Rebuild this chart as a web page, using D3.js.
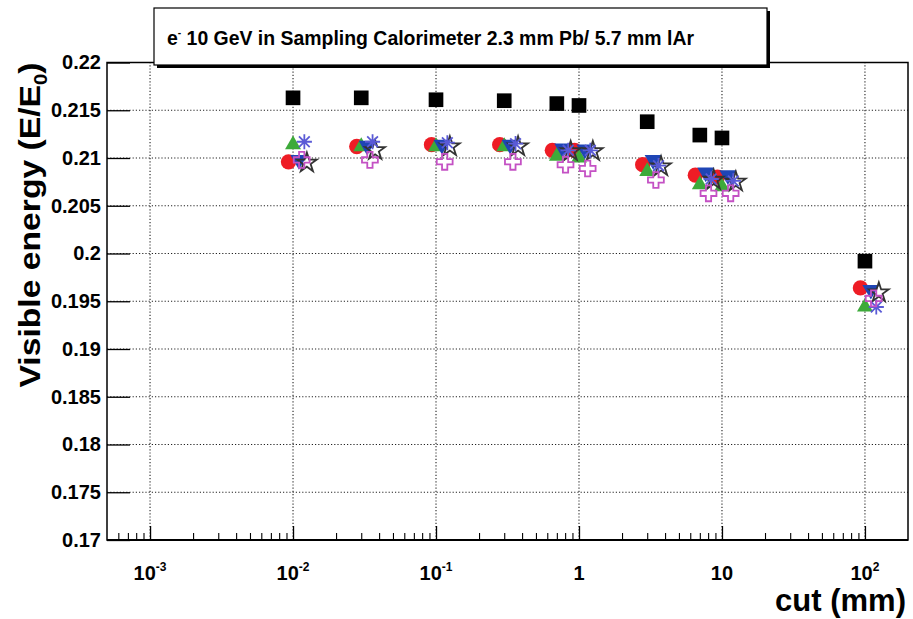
<!DOCTYPE html>
<html>
<head>
<meta charset="utf-8">
<script src="https://cdn.jsdelivr.net/npm/d3@7"></script>
<style>
  body { margin: 0; background: #fff; }
  text { font-family: "Liberation Sans", Arial, sans-serif; font-weight: bold; fill: #000; }
</style>
</head>
<body>
<svg id="chart" width="913" height="619"></svg>
<script>

// cut values (mm) and the visible energy fraction of each series
const cuts          = [0.01, 0.03, 0.1, 0.3, 0.7, 1, 3, 7, 10, 100];
const squareVals    = [0.2163, 0.2163, 0.2161, 0.2160, 0.2157, 0.2155, 0.2138, 0.2124, 0.2121, 0.1992];
const circleVals    = [0.2096, 0.2112, 0.2114, 0.2114, 0.2108, 0.2108, 0.2093, 0.2082, 0.2080, 0.1964];
const triUpVals     = [0.2114, 0.2112, 0.2112, 0.2112, 0.2102, 0.2100, 0.2086, 0.2072, 0.2070, 0.1944];
const triDownVals   = [0.2098, 0.2113, 0.2114, 0.2114, 0.2110, 0.2109, 0.2098, 0.2085, 0.2082, 0.1962];
const starVals      = [0.2095, 0.2108, 0.2112, 0.2112, 0.2107, 0.2107, 0.2091, 0.2077, 0.2075, 0.1959];
const asteriskVals  = [0.2117, 0.2117, 0.2116, 0.2115, 0.2108, 0.2108, 0.2092, 0.2078, 0.2076, 0.1944];
const crossVals     = [0.2098, 0.2098, 0.2096, 0.2096, 0.2093, 0.2089, 0.2077, 0.2063, 0.2063, 0.1953];

// small x offsets the series were plotted with (factor on the cut)
const xShift        = { square: 1, circle: 0.93, triUp: 1.0, triDown: 1.1, star: 1.25, asterisk: 1.2, cross: 1.15 };

const yTicks        = [0.17, 0.175, 0.18, 0.185, 0.19, 0.195, 0.2, 0.205, 0.21, 0.215, 0.22];
const xMajor        = [1e-3, 1e-2, 1e-1, 1, 10, 100];
const xMajorLabels  = [['10', '-3'], ['10', '-2'], ['10', '-1'], ['1', ''], ['10', ''], ['10', '2']];

const titleText     = ' 10 GeV in Sampling Calorimeter 2.3 mm Pb/ 5.7 mm lAr';


const svg = d3.select('#chart');

const x = d3.scaleLog().domain([5e-4, 200]).range([107, 908]);
const y = d3.scaleLinear().domain([0.17, 0.22]).range([540, 62.5]);

// minor ticks of the log axis
const xMinor = [];
[1e-4, 1e-3, 1e-2, 1e-1, 1, 10].forEach(d => {
  for (let k = 2; k <= 9; k++) {
    const v = d * k;
    if (v > 5e-4 && v < 200) xMinor.push(v);
  }
});

// grid
const grid = svg.append('g')
  .attr('stroke', '#222')
  .attr('stroke-width', 1.1)
  .attr('stroke-dasharray', '1.2,2');

grid.selectAll('.gx').data(xMajor)
  .enter().append('line')
    .attr('x1', d => x(d)).attr('x2', d => x(d))
    .attr('y1', y(0.17)).attr('y2', y(0.22));

grid.selectAll('.gy').data(yTicks.slice(1, -1))
  .enter().append('line')
    .attr('x1', x(5e-4)).attr('x2', x(200))
    .attr('y1', d => y(d)).attr('y2', d => y(d));

// y axis, ticks pointing inside
const yAxisG = svg.append('g')
  .attr('transform', `translate(${x(5e-4)},0)`)
  .call(d3.axisLeft(y).tickValues(yTicks).tickSize(-23).tickPadding(6)
    .tickFormat(d => String(+d.toFixed(3))));
yAxisG.select('.domain').remove();
yAxisG.selectAll('.tick line').attr('stroke', '#000').attr('stroke-width', 1.3);
yAxisG.selectAll('text')
  .attr('font-size', 20)
  .attr('font-family', '"Liberation Sans", Arial, sans-serif');

// x axis majors and minors
const xAxisG = svg.append('g')
  .attr('transform', `translate(0,${y(0.17)})`)
  .call(d3.axisBottom(x).tickValues(xMajor).tickSize(-14).tickFormat(''));
xAxisG.select('.domain').remove();
xAxisG.selectAll('.tick line').attr('stroke', '#000').attr('stroke-width', 1.3);

const xMinorG = svg.append('g')
  .attr('transform', `translate(0,${y(0.17)})`)
  .call(d3.axisBottom(x).tickValues(xMinor).tickSize(-7).tickFormat(''));
xMinorG.select('.domain').remove();
xMinorG.selectAll('.tick line').attr('stroke', '#000').attr('stroke-width', 1.1);

// x tick labels with superscripts
const xl = svg.append('g').selectAll('text').data(xMajor)
  .enter().append('text')
    .attr('x', d => x(d))
    .attr('y', 580)
    .attr('text-anchor', 'middle')
    .attr('font-size', 20);
xl.append('tspan').text((d, i) => xMajorLabels[i][0]);
xl.append('tspan')
  .attr('font-size', 12)
  .attr('dy', -9)
  .text((d, i) => xMajorLabels[i][1]);

// frame
svg.append('rect')
  .attr('x', x(5e-4)).attr('y', y(0.22))
  .attr('width', x(200) - x(5e-4)).attr('height', y(0.17) - y(0.22))
  .attr('fill', 'none').attr('stroke', '#000').attr('stroke-width', 1.5);
svg.append('line')
  .attr('x1', x(5e-4)).attr('x2', x(200))
  .attr('y1', y(0.17)).attr('y2', y(0.17))
  .attr('stroke', '#000').attr('stroke-width', 2.2);

// markers
const asteriskType = {
  draw(ctx, size) {
    const r = Math.sqrt(size) / 2;
    for (let a = 0; a < 4; a++) {
      const t = a * Math.PI / 4;
      ctx.moveTo(-r * Math.cos(t), -r * Math.sin(t));
      ctx.lineTo(r * Math.cos(t), r * Math.sin(t));
    }
  }
};

const series = [
  { key: 'square',   vals: squareVals,   type: d3.symbolSquare,   size: 215, fill: '#000',    stroke: 'none',    rot: 0 },
  { key: 'circle',   vals: circleVals,   type: d3.symbolCircle,   size: 185, fill: '#ee1c25', stroke: 'none',    rot: 0 },
  { key: 'triUp',    vals: triUpVals,    type: d3.symbolTriangle, size: 110, fill: '#3daa3a', stroke: 'none',    rot: 0 },
  { key: 'triDown',  vals: triDownVals,  type: d3.symbolTriangle, size: 125, fill: '#1f45b5', stroke: 'none',    rot: 180 },
  { key: 'star',     vals: starVals,     type: d3.symbolStar,     size: 120, fill: 'none',    stroke: '#333',    rot: 0 },
  { key: 'asterisk', vals: asteriskVals, type: asteriskType,      size: 230, fill: 'none',    stroke: '#5a5ad6', rot: 0 },
  { key: 'cross',    vals: crossVals,    type: d3.symbolCross,    size: 140, fill: 'none',    stroke: '#c451c4', rot: 0 }
];

series.forEach(s => {
  svg.append('g').selectAll('path').data(s.vals)
    .enter().append('path')
      .attr('transform', (d, i) =>
        `translate(${x(cuts[i] * xShift[s.key])},${y(d)}) rotate(${s.rot})`)
      .attr('d', d3.symbol().type(s.type).size(s.size))
      .attr('fill', s.fill)
      .attr('stroke', s.stroke)
      .attr('stroke-width', 1.8);
});

// title box
const tb = svg.append('g');
tb.append('rect')
  .attr('x', 157).attr('y', 11).attr('width', 613).attr('height', 57)
  .attr('fill', '#000');
tb.append('rect')
  .attr('x', 154).attr('y', 8).attr('width', 613).attr('height', 57)
  .attr('fill', '#fff').attr('stroke', '#000').attr('stroke-width', 1.2);
const tt = tb.append('text')
  .attr('x', 167).attr('y', 45)
  .attr('font-size', 21)
  .attr('textLength', 527)
  .attr('lengthAdjust', 'spacingAndGlyphs');
tt.append('tspan').text('e');
tt.append('tspan').attr('font-size', 11).attr('dy', -9).text('-');
tt.append('tspan').attr('dy', 9).text(titleText);

// axis titles
const yt = svg.append('text')
  .attr('transform', 'translate(40,225) rotate(-90)')
  .attr('text-anchor', 'middle')
  .attr('font-size', 30)
  .attr('textLength', 325)
  .attr('lengthAdjust', 'spacingAndGlyphs');
yt.append('tspan').text('Visible energy (E/E');
yt.append('tspan').attr('font-size', 18).attr('dy', 7).text('0');
yt.append('tspan').attr('dy', -7).text(')');

svg.append('text')
  .attr('x', 906).attr('y', 611)
  .attr('text-anchor', 'end')
  .attr('font-size', 31)
  .text('cut (mm)');

</script>
</body>
</html>
